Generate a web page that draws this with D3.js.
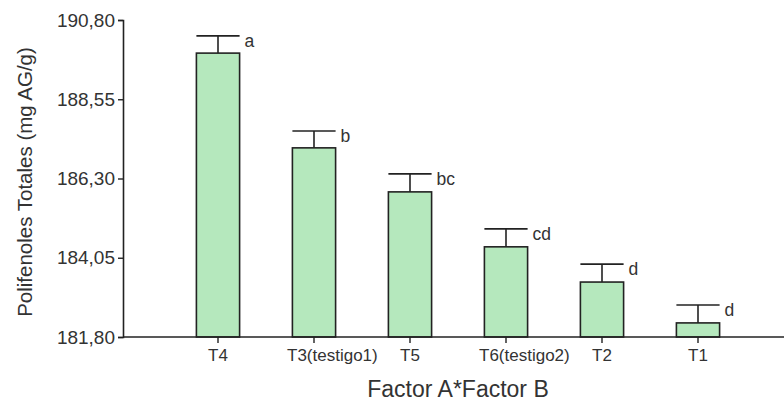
<!DOCTYPE html>
<html>
<head>
<meta charset="utf-8">
<script src="https://cdn.jsdelivr.net/npm/d3@7"></script>
<style>
  body { margin: 0; background: #fff; }
  text { font-family: "Liberation Sans", Arial, sans-serif; fill: #333; }
</style>
</head>
<body>
<div id="graph"></div>
<script>
var W = 784, H = 402

// data
var treatments = ["T4", "T3(testigo1)", "T5", "T6(testigo2)", "T2", "T1"]
var means = [189.86, 187.17, 185.92, 184.36, 183.36, 182.20]
var errors = [0.49, 0.48, 0.51, 0.51, 0.51, 0.51]
var groups = ["a", "b", "bc", "cd", "d", "d"]
var yTicks = [181.80, 184.05, 186.30, 188.55, 190.80]

var mLeft = 123, mRight = 784, mTop = 20, mBottom = 337

var svg = d3.select("#graph").append("svg")
    .attr("width", W)
    .attr("height", H)

var y = d3.scaleLinear()
    .domain([181.80, 190.80])
    .range([mBottom, mTop])

// band step ~96px, first bar centred at ~218
var x = d3.scaleBand()
    .domain(treatments)
    .range([170, 746])
    .paddingInner(0.55)
    .paddingOuter(0.275)

var fmt = function (d) { return d3.format(".2f")(d).replace(".", ",") }

// bars
svg.selectAll("rect.bar")
    .data(treatments)
    .enter().append("rect")
    .attr("class", "bar")
    .attr("x", function (d) { return x(d) })
    .attr("y", function (d, i) { return y(means[i]) })
    .attr("width", x.bandwidth())
    .attr("height", function (d, i) { return mBottom - y(means[i]) })
    .attr("fill", "#b5e8bd")
    .attr("stroke", "#222")
    .attr("stroke-width", 1.6)

// error bars (upper only)
var eb = svg.selectAll("g.err")
    .data(treatments)
    .enter().append("g")
    .attr("class", "err")

eb.append("line")
    .attr("x1", function (d) { return x(d) + x.bandwidth() / 2 })
    .attr("x2", function (d) { return x(d) + x.bandwidth() / 2 })
    .attr("y1", function (d, i) { return y(means[i]) })
    .attr("y2", function (d, i) { return y(means[i] + errors[i]) })
    .attr("stroke", "#222")
    .attr("stroke-width", 1.6)

eb.append("line")
    .attr("x1", function (d) { return x(d) })
    .attr("x2", function (d) { return x(d) + x.bandwidth() })
    .attr("y1", function (d, i) { return y(means[i] + errors[i]) })
    .attr("y2", function (d, i) { return y(means[i] + errors[i]) })
    .attr("stroke", "#222")
    .attr("stroke-width", 1.6)

// significance letters
eb.append("text")
    .attr("x", function (d) { return x(d) + x.bandwidth() + 5 })
    .attr("y", function (d, i) { return y(means[i] + errors[i]) + 11 })
    .attr("font-size", 17.5)
    .text(function (d, i) { return groups[i] })

// y axis
var yAxis = svg.append("g")
    .attr("transform", "translate(" + mLeft + ",0)")
    .call(d3.axisLeft(y).tickValues(yTicks).tickFormat(fmt).tickSize(5).tickPadding(3))
yAxis.select(".domain").attr("stroke", "#222").attr("stroke-width", 1.6)
yAxis.selectAll(".tick line").attr("stroke", "#222").attr("stroke-width", 1.4)
yAxis.selectAll(".tick text")
    .attr("font-size", 19)
    .attr("font-family", "Liberation Sans, Arial, sans-serif")
    .attr("fill", "#333")

// x axis
var xAxis = svg.append("g")
    .attr("transform", "translate(0," + mBottom + ")")
    .call(d3.axisBottom(x).tickSize(6).tickPadding(6).tickSizeOuter(0))
xAxis.select(".domain")
    .attr("d", "M" + mLeft + ",0H" + mRight)
    .attr("stroke", "#222").attr("stroke-width", 1.6)
xAxis.selectAll(".tick line").attr("stroke", "#222").attr("stroke-width", 1.4)
xAxis.selectAll(".tick text")
    .attr("font-size", 17)
    .attr("font-family", "Liberation Sans, Arial, sans-serif")
    .attr("fill", "#333")
    // long labels start a little left of their tick, as in the original
    .each(function (d) {
        if (d.indexOf("(") > -1) {
            d3.select(this).attr("text-anchor", "start").attr("x", -27)
        }
    })

// axis titles
svg.append("text")
    .attr("x", 458)
    .attr("y", 397)
    .attr("text-anchor", "middle")
    .attr("font-size", 23)
    .text("Factor A*Factor B")

svg.append("text")
    .attr("transform", "translate(32,182) rotate(-90)")
    .attr("text-anchor", "middle")
    .attr("font-size", 20.5)
    .text("Polifenoles Totales (mg AG/g)")
</script>
</body>
</html>
